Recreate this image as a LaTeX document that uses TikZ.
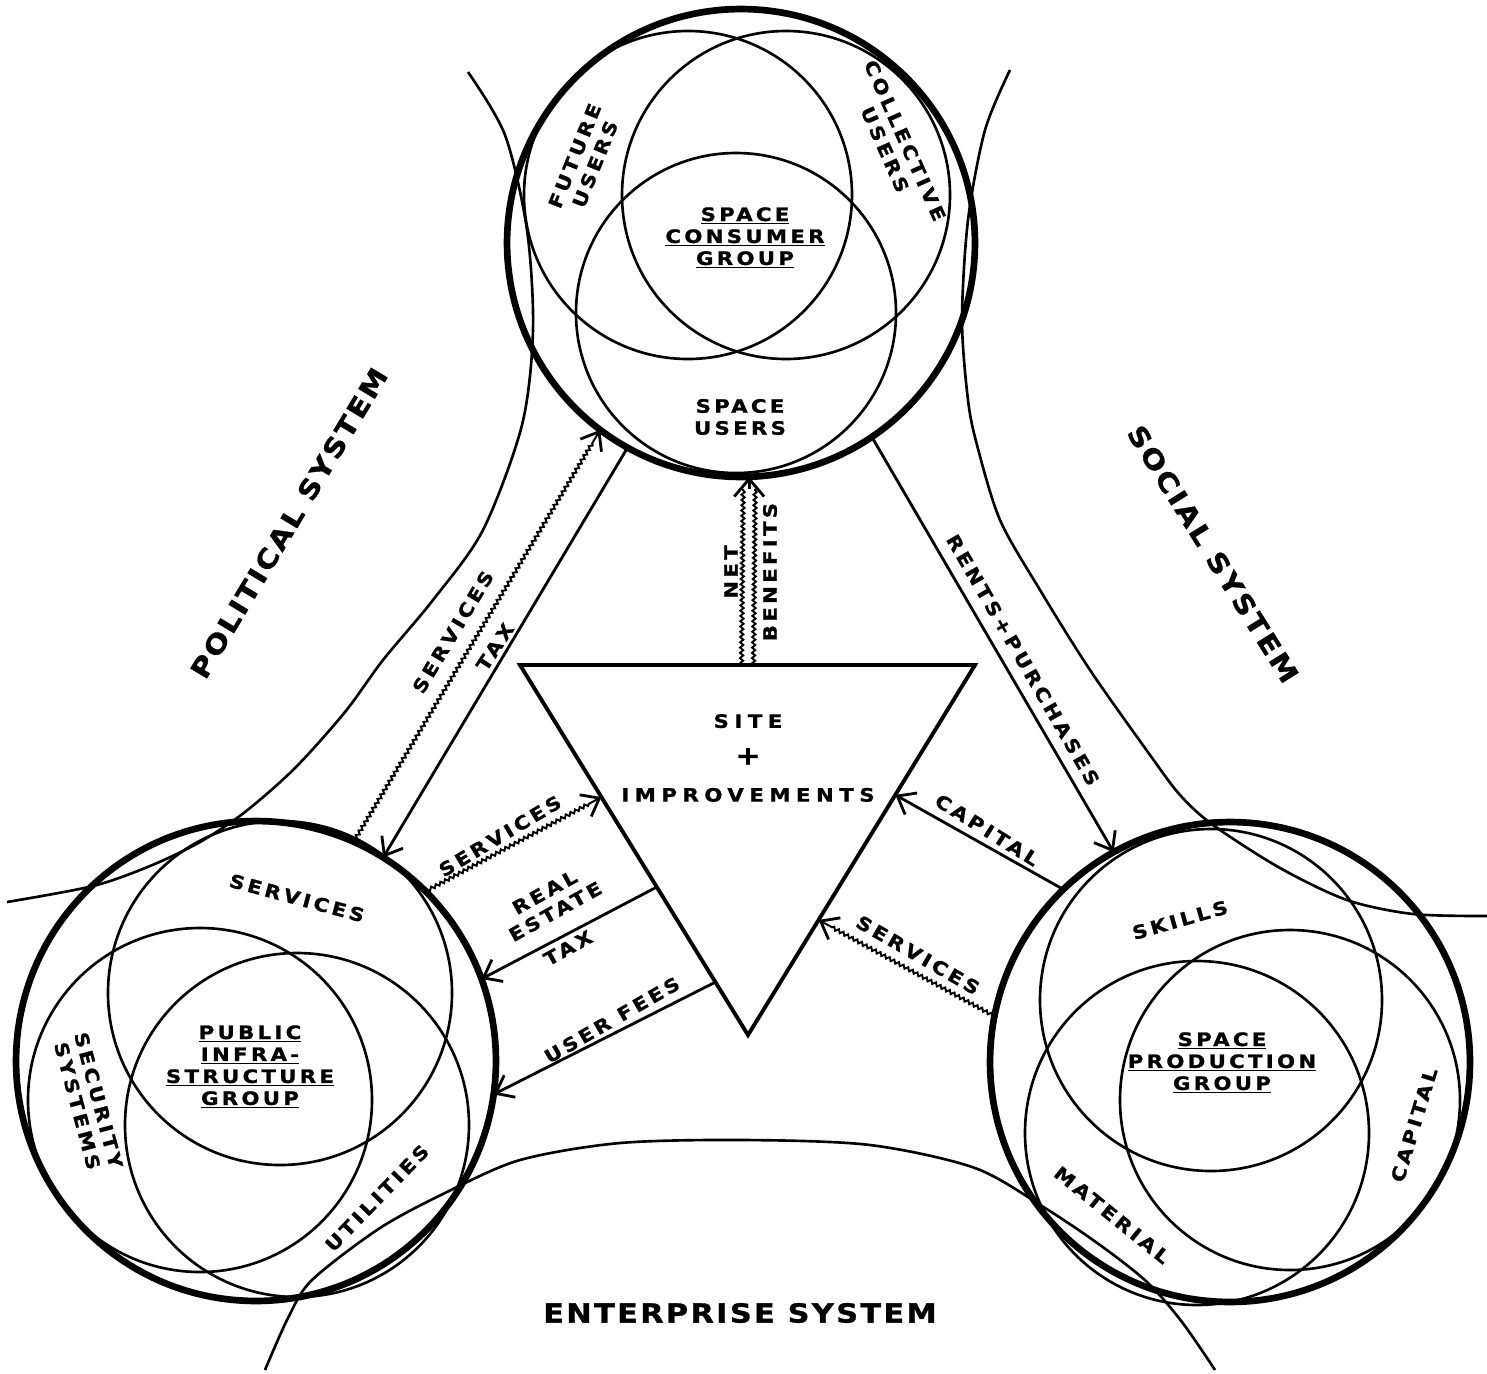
\documentclass[tikz,border=0pt]{standalone}
\usepackage{fontspec}
\newfontfamily\widefont{DejaVu Sans}[UprightFont=* Bold,FakeStretch=1.15,FakeBold=1.2]
\usetikzlibrary{arrows.meta,decorations.pathmorphing,calc}
\tikzset{
  bigcirc/.style={circle,draw,line width=3.8pt,inner sep=0pt,outer sep=0pt},
  venn/.style={line width=1.5pt},
  bound/.style={line width=1.5pt},
  tri/.style={line width=2.2pt,line join=miter},
  flow/.style={line width=1.6pt,-{Straight Barb[length=9pt,width=14pt,line width=1.6pt]}},
  wavy/.style={line width=1.1pt,decorate,decoration={snake,amplitude=.9pt,segment length=3pt,post length=8pt}},
  lbl/.style={font=\widefont\addfontfeature{LetterSpace=18}\fontsize{10.5}{12.5}\selectfont,inner sep=0pt,align=center},
  syslbl/.style={font=\widefont\addfontfeature{LetterSpace=9}\fontsize{15}{18}\selectfont,inner sep=0pt},
}
\begin{document}
\begin{tikzpicture}[x=0.02cm,y=-0.02cm]
    \useasboundingbox (0,0) rectangle (1487,1373);
    % システムの境界
    \draw[bound] plot[smooth] coordinates {(468,72) (505,135) (527,230) (533,330) (522,425) (483,530) (433,600) (383,660) (345,712) (295,768) (245,812) (200,842) (150,866) (93,886) (7,902)};
    \draw[bound] plot[smooth] coordinates {(1010,70) (985,130) (968,220) (962,320) (968,400) (977,445) (1000,520) (1040,590) (1090,670) (1150,755) (1180,795) (1213,825) (1280,868) (1347,900) (1413,914) (1487,916)};
    \draw[bound] plot[smooth] coordinates {(265,1370) (288,1318) (312,1280) (380,1228) (447,1192) (520,1160) (620,1143) (745,1140) (870,1145) (975,1168) (1045,1208) (1100,1245) (1147,1282) (1182,1322) (1215,1370)};
    % 三つのグループ
    \node[bigcirc,minimum size=9.36cm] (cons) at (741,243) {};
    \node[bigcirc,minimum size=9.6cm] (pub) at (256,1061) {};
    \node[bigcirc,minimum size=9.6cm] (prod) at (1230,1062) {};
    \draw[venn] (688,195) circle[radius=164];
    \draw[venn] (786,195) circle[radius=164];
    \draw[venn] (736,313) circle[radius=160];
    \draw[venn] (280,993) circle[radius=172];
    \draw[venn] (200,1100) circle[radius=172];
    \draw[venn] (297,1125) circle[radius=172];
    \draw[venn] (1211,1000) circle[radius=171];
    \draw[venn] (1197,1133) circle[radius=172];
    \draw[venn] (1290,1100) circle[radius=170];
    % 敷地
    \coordinate (tl) at (520,665);
    \coordinate (tr) at (975,665);
    \coordinate (bt) at (748,1035);
    \draw[tri] (tl) -- (tr) -- (bt) -- cycle;
    \node[lbl,font=\widefont\addfontfeature{LetterSpace=30}\fontsize{10.5}{21}\selectfont] (site) at (748,758) {SITE\\{\fontsize{15}{21}\selectfont +}\\IMPROVEMENTS};
    % 流れ
    \draw[flow,wavy] (pub.66) -- (cons.233);
    \draw[flow] (cons.241) -- (pub.58);
    \draw[flow] (cons.304) -- (prod.119);
    \draw[flow,wavy] (pub.45) -- ($(tl)!0.357!(bt)$);
    \draw[flow] ($(tl)!0.6!(bt)$) -- (pub.20);
    \draw[flow] ($(tl)!0.857!(bt)$) -- (pub.352);
    \draw[flow] (prod.134) -- ($(tr)!0.351!(bt)$);
    \draw[flow,wavy] (prod.169) -- ($(tr)!0.689!(bt)$);
    \coordinate (nbtop) at ($(cons.272)+(0,12)$);
    \draw[wavy,decoration={post length=0pt}] ($(tl)!0.5!(tr)+(-6,0)$) -- ($(nbtop)+(-6,0)$);
    \draw[wavy,decoration={post length=0pt}] ($(tl)!0.5!(tr)+(6,0)$) -- ($(nbtop)+(6,0)$);
    \draw[line width=1.6pt,-{Straight Barb[length=10pt,width=17pt,line width=1.6pt]}] (nbtop) -- (cons.272);
    % 矢印のラベル
    \node[lbl,rotate=59] at (453,632) {SERVICES};
    \node[lbl,rotate=57] at (495,647) {TAX};
    \node[lbl,rotate=90] at (731,572) {NET};
    \node[lbl,rotate=90] at (770,572) {BENEFITS};
    \node[lbl,rotate=-60] at (1023,660) {RENTS+PURCHASES};
    \node[lbl,rotate=31] at (500,836) {SERVICES};
    \node[lbl,rotate=29] at (550,902) {REAL\\ESTATE};
    \node[lbl,rotate=29] at (568,948) {TAX};
    \node[lbl,rotate=30] at (612,1020) {USER FEES};
    \node[lbl,rotate=-32] at (987,830) {CAPITAL};
    \node[lbl,rotate=-30] at (918,955) {SERVICES};
    % 円の中のラベル
    \node[lbl,rotate=68] at (585,160) {FUTURE\\USERS};
    \node[lbl,rotate=-66] at (895,145) {COLLECTIVE\\USERS};
    \node[lbl] at (745,238) {\underline{SPACE}\\\underline{CONSUMER}\\\underline{GROUP}};
    \node[lbl] at (740,417) {SPACE\\USERS};
    \node[lbl,rotate=-15] at (297,898) {SERVICES};
    \node[lbl,rotate=-75] at (88,1103) {SECURITY\\SYSTEMS};
    \node[lbl] at (250,1067) {\underline{PUBLIC}\\\underline{INFRA-}\\\underline{STRUCTURE}\\\underline{GROUP}};
    \node[lbl,rotate=46] at (377,1198) {UTILITIES};
    \node[lbl,rotate=16] at (1180,920) {SKILLS};
    \node[lbl] at (1222,1063) {\underline{SPACE}\\\underline{PRODUCTION}\\\underline{GROUP}};
    \node[lbl,rotate=73] at (1414,1125) {CAPITAL};
    \node[lbl,rotate=-39] at (1112,1215) {MATERIAL};
    % システム名
    \node[syslbl,rotate=59] at (289,523) {POLITICAL SYSTEM};
    \node[syslbl,rotate=-58] at (1213,554) {SOCIAL SYSTEM};
    \node[syslbl] at (740,1313) {ENTERPRISE SYSTEM};
\end{tikzpicture}
\end{document}
